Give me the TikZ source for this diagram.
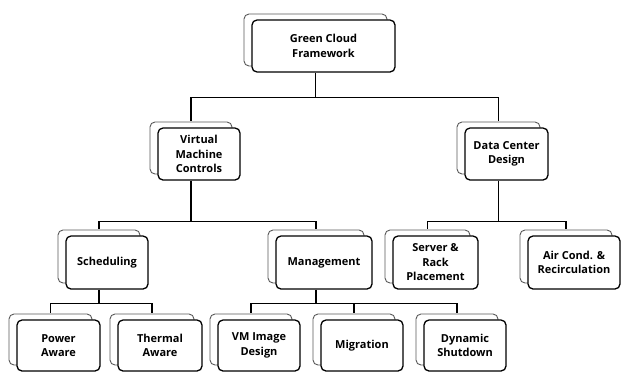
\documentclass[tikz,border=0pt]{standalone}
\usepackage{fontspec}
\setmainfont{Open Sans}
\usetikzlibrary{shadows}

\begin{document}
\begin{tikzpicture}[
    x=1pt, y=-1pt,
    caixa/.style={
        rectangle,
        rounded corners=5pt,
        draw,
        line width=1.3pt,
        fill=white,
        align=center,
        inner sep=1pt,
        minimum height=52pt,
        font=\bfseries\fontsize{11}{14.5}\selectfont,
        copy shadow={shadow xshift=-8pt, shadow yshift=6pt, draw=black!65, line width=0.9pt, fill=white}
    },
    linha/.style={line width=1.4pt}
]
\useasboundingbox (0,0) rectangle (623,373);

\node[caixa, minimum width=143pt] (framework) at (323.5,46) {Green Cloud\\Framework};

\node[caixa, minimum width=82pt] (controles) at (199,154) {Virtual\\Machine\\Controls};
\node[caixa, minimum width=83pt] (datacenter) at (506.5,154) {Data Center\\Design};

\node[caixa, minimum width=82pt, minimum height=53pt] (escalonamento) at (107,262.5) {Scheduling};
\node[caixa, minimum width=96pt, minimum height=53pt] (gerencia) at (324,262.5) {Management};
\node[caixa, minimum width=85pt, minimum height=53pt] (servidor) at (435.5,262.5) {Server \&\\Rack\\Placement};
\node[caixa, minimum width=92pt, minimum height=53pt] (arcond) at (574,262.5) {Air Cond. \&\\Recirculation};

\node[caixa, minimum width=83pt, minimum height=51pt] (potencia) at (58.5,345.5) {Power\\Aware};
\node[caixa, minimum width=84pt, minimum height=51pt] (termica) at (160,345.5) {Thermal\\Aware};
\node[caixa, minimum width=82pt, minimum height=51pt] (imagem) at (259,345.5) {VM Image\\Design};
\node[caixa, minimum width=82pt, minimum height=51pt] (migracao) at (362,345.5) {Migration};
\node[caixa, minimum width=82pt, minimum height=51pt] (desligamento) at (465,345.5) {Dynamic\\Shutdown};

\draw[linha] ([xshift=-8pt]framework.south) -- ++(0,25) coordinate (barra1);
\draw[linha] (barra1) -| ([xshift=-8pt,yshift=6pt]controles.north);
\draw[linha] (barra1) -| ([xshift=-8pt,yshift=6pt]datacenter.north);

\draw[linha] ([xshift=-8pt]controles.south) -- ++(0,41) coordinate (barra2);
\draw[linha] (barra2) -| ([xshift=-8pt,yshift=6pt]escalonamento.north);
\draw[linha] (barra2) -| ([xshift=-8pt,yshift=6pt]gerencia.north);

\draw[linha] ([xshift=-8pt]datacenter.south) -- ++(0,41) coordinate (barra3);
\draw[linha] (barra3) -| ([xshift=-8pt,yshift=6pt]servidor.north);
\draw[linha] (barra3) -| ([xshift=-8pt,yshift=6pt]arcond.north);

\draw[linha] ([xshift=-8pt]escalonamento.south) -- ++(0,14) coordinate (barra4);
\draw[linha] (barra4) -| ([xshift=-8pt,yshift=6pt]potencia.north);
\draw[linha] (barra4) -| ([xshift=-8pt,yshift=6pt]termica.north);

\draw[linha] ([xshift=-8pt]gerencia.south) -- ++(0,14) coordinate (barra5);
\draw[linha] (barra5) -| ([xshift=-8pt,yshift=6pt]imagem.north);
\draw[linha] (barra5) -| ([xshift=-8pt,yshift=6pt]migracao.north);
\draw[linha] (barra5) -| ([xshift=-8pt,yshift=6pt]desligamento.north);

\end{tikzpicture}
\end{document}
